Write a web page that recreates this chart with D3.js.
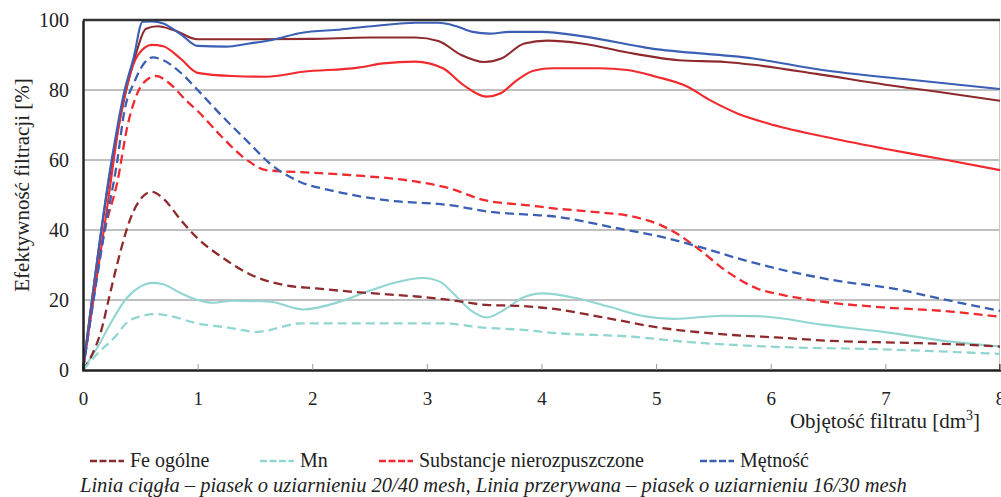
<!DOCTYPE html>
<html>
<head>
<meta charset="utf-8">
<script src="https://cdn.jsdelivr.net/npm/d3@7"></script>
<style>
  body { margin: 0; background: #fff; }
  svg text { font-family: "Liberation Serif", "Times New Roman", Times, Tinos, "DejaVu Serif", serif !important; fill: #222; }
</style>
</head>
<body>
<svg id="chart" width="1001" height="497"></svg>
<script>
// ---- data ----
var xTicks = [0, 1, 2, 3, 4, 5, 6, 7, 8];
var yTicks = [0, 20, 40, 60, 80, 100];
var legendNames = ["Fe ogólne", "Mn", "Substancje nierozpuszczone", "Mętność"];

// solid lines (piasek 20/40 mesh)
var feSolidX = [0, 0.25, 0.45, 0.55, 0.65, 0.8, 1.0, 1.5, 2.0, 2.5, 2.9, 3.1, 3.3, 3.5, 3.65, 3.85, 4.05, 4.35, 4.75, 5.2, 5.6, 5.85, 6.4, 7.0, 7.5, 8.0];
var feSolidY = [0, 59, 89, 97.5, 98.2, 97, 94.5, 94.5, 94.6, 95, 95, 94, 90, 88, 89, 93.3, 94.1, 93.3, 90.7, 88.5, 88, 87.2, 84.6, 81.5, 79.3, 76.9];

var mnSolidX = [0, 0.13, 0.24, 0.38, 0.5, 0.6, 0.7, 0.85, 1.0, 1.14, 1.3, 1.63, 1.92, 2.24, 2.48, 2.7, 2.97, 3.12, 3.23, 3.38, 3.52, 3.67, 3.84, 4.01, 4.31, 4.6, 4.89, 5.15, 5.58, 5.88, 6.46, 6.98, 7.57, 8.0];
var mnSolidY = [0, 6.7, 13.3, 20.5, 23.8, 24.9, 24.5, 22, 20, 19.2, 19.8, 19.5, 17.3, 19.5, 22.4, 24.8, 26.3, 25.1, 21.9, 17.1, 15, 17.1, 20.7, 21.9, 20.5, 18, 15.4, 14.6, 15.5, 15.4, 12.9, 10.9, 8.1, 6.7];

var subSolidX = [0, 0.2, 0.33, 0.48, 0.6, 0.7, 0.85, 1.0, 1.3, 1.6, 1.92, 2.4, 2.62, 2.9, 3.14, 3.32, 3.52, 3.64, 3.79, 3.93, 4.1, 4.5, 4.75, 5.0, 5.27, 5.47, 5.71, 5.97, 6.46, 6.98, 7.5, 8.0];
var subSolidY = [0, 44, 72.9, 90, 92.9, 92.5, 89, 84.9, 84, 83.8, 85.2, 86.4, 87.6, 88.1, 86.2, 81.4, 78.1, 79, 82.9, 85.5, 86.2, 86.2, 85.7, 83.8, 81, 77.1, 73.3, 70.5, 66.7, 63.3, 60.2, 57.1];

var metSolidX = [0, 0.25, 0.36, 0.44, 0.52, 0.6, 0.7, 0.85, 1.0, 1.25, 1.45, 1.65, 1.9, 2.25, 2.6, 2.9, 3.1, 3.25, 3.4, 3.55, 3.72, 4.0, 4.35, 4.95, 5.85, 6.45, 7.2, 8.0];
var metSolidY = [0, 60, 79.5, 89, 99.5, 99.6, 99, 96, 92.6, 92.4, 93.3, 94.3, 96.3, 97.3, 98.5, 99.2, 99.2, 98.3, 96.6, 96.1, 96.6, 96.6, 95.4, 91.9, 89, 85.7, 83, 80.3];

// dashed lines (piasek 16/30 mesh)
var feDashX = [0, 0.07, 0.16, 0.23, 0.3, 0.42, 0.52, 0.6, 0.7, 0.85, 1.0, 1.2, 1.46, 1.75, 2.04, 2.33, 2.62, 2.91, 3.2, 3.52, 3.81, 4.07, 4.51, 5.03, 5.67, 6.05, 6.54, 7.13, 7.57, 8.0];
var feDashY = [0, 3.8, 11.4, 21, 30.5, 43.8, 49.5, 50.9, 49, 43, 37.6, 32.5, 27.3, 24.3, 23.3, 22.4, 21.7, 21, 20, 18.6, 18.3, 17.6, 15.2, 12.1, 10, 9.3, 8.3, 7.8, 7.4, 6.7];

var mnDashX = [0, 0.13, 0.28, 0.39, 0.5, 0.62, 0.75, 1.0, 1.25, 1.52, 1.9, 2.5, 3.14, 3.49, 3.87, 4.07, 4.8, 5.24, 5.97, 6.98, 8.0];
var mnDashY = [0, 4.8, 9.5, 13.8, 15.3, 16, 15.5, 13.3, 12.2, 10.9, 13.3, 13.3, 13.3, 12.1, 11.4, 10.7, 9.5, 8.1, 6.7, 5.9, 4.6];

var subDashX = [0, 0.19, 0.3, 0.39, 0.48, 0.56, 0.64, 0.75, 0.9, 1.0, 1.2, 1.43, 1.6, 1.98, 2.33, 2.91, 3.2, 3.49, 3.93, 4.07, 4.45, 4.8, 5.04, 5.18, 5.38, 5.62, 5.88, 6.11, 6.46, 6.98, 7.57, 8.0];
var subDashY = [0, 40, 53.8, 70, 79.5, 83, 84, 82, 77, 74, 67, 60, 57.1, 56.4, 55.7, 53.8, 51.9, 48.6, 46.9, 46.3, 45.2, 43.8, 41.4, 39, 34.3, 28.1, 23.3, 21.4, 19.5, 17.9, 16.7, 15.2];

var metDashX = [0, 0.19, 0.3, 0.36, 0.45, 0.53, 0.61, 0.7, 0.85, 1.0, 1.2, 1.46, 1.63, 1.89, 2.18, 2.62, 3.2, 3.55, 3.93, 4.07, 4.66, 5.04, 5.32, 5.82, 6.17, 6.54, 7.13, 7.42, 8.0];
var metDashY = [0, 40, 60, 73.8, 82.4, 87.5, 89.3, 88.5, 85, 80, 73, 64.5, 59, 53.8, 51.2, 48.6, 47.1, 45.2, 44.3, 44, 40.5, 38.1, 35.7, 30.9, 28.1, 25.7, 22.9, 20.8, 16.9];

var colors = ["#8e2a2e", "#92d6d2", "#f02a2e", "#3a5fb3"];

// ---- chart ----
var svg = d3.select("#chart"),
    margin = { top: 20, right: 1, bottom: 127, left: 83 },
    iwidth = +svg.attr("width") - margin.left - margin.right,
    iheight = +svg.attr("height") - margin.top - margin.bottom,
    g = svg.append("g").attr("transform", "translate(" + margin.left + "," + margin.top + ")");

var x = d3.scaleLinear().domain([0, 8]).range([0, iwidth]);
var y = d3.scaleLinear().domain([0, 100]).range([iheight, 0]);

// gridlines
g.append("g")
  .selectAll("line")
  .data(yTicks.filter(d => d > 0 && d < 100))
  .enter().append("line")
    .attr("x1", 0).attr("x2", iwidth)
    .attr("y1", d => y(d)).attr("y2", d => y(d))
    .attr("stroke", "#808080").attr("stroke-width", 1);

// right border
g.append("line")
  .attr("x1", iwidth - 0.5).attr("x2", iwidth - 0.5)
  .attr("y1", 0).attr("y2", iheight)
  .attr("stroke", "#c8c8c8").attr("stroke-width", 1);

// series
var series = [
  { xs: feSolidX, ys: feSolidY, c: 0, dash: null },
  { xs: mnSolidX, ys: mnSolidY, c: 1, dash: null },
  { xs: subSolidX, ys: subSolidY, c: 2, dash: null },
  { xs: metSolidX, ys: metSolidY, c: 3, dash: null },
  { xs: feDashX, ys: feDashY, c: 0, dash: "9,5" },
  { xs: mnDashX, ys: mnDashY, c: 1, dash: "9,5" },
  { xs: subDashX, ys: subDashY, c: 2, dash: "9,5" },
  { xs: metDashX, ys: metDashY, c: 3, dash: "9,5" }
];

var line = d3.line()
  .x(d => x(d[0]))
  .y(d => y(d[1]))
  .curve(d3.curveMonotoneX);

series.forEach(function (s) {
  g.append("path")
    .datum(s.xs.map((v, i) => [v, s.ys[i]]))
    .attr("fill", "none")
    .attr("stroke", colors[s.c])
    .attr("stroke-width", s.dash ? 2.3 : 2.1)
    .attr("stroke-dasharray", s.dash)
    .attr("d", line);
});

// top border
g.append("line")
  .attr("x1", 0).attr("x2", iwidth)
  .attr("y1", 0).attr("y2", 0)
  .attr("stroke", "#333").attr("stroke-width", 2.5);

// x axis
var xAxis = g.append("g")
  .attr("transform", "translate(0," + iheight + ")")
  .call(d3.axisBottom(x).tickValues(xTicks).tickSize(-6).tickPadding(22).tickFormat(d3.format("d")));
xAxis.select(".domain").attr("stroke", "#222").attr("stroke-width", 2.5);
xAxis.selectAll(".tick line").attr("stroke", "#999");
xAxis.selectAll(".tick text").attr("font-size", 19).attr("fill", "#222");

// y axis
var yAxis = g.append("g")
  .call(d3.axisLeft(y).tickValues(yTicks).tickSize(0).tickPadding(14));
yAxis.select(".domain").attr("stroke", "#222").attr("stroke-width", 2.5);
yAxis.selectAll(".tick text").attr("font-size", 20).attr("fill", "#222");

// axis titles
svg.append("text")
  .attr("transform", "translate(29," + (margin.top + 165) + ") rotate(-90)")
  .attr("text-anchor", "middle")
  .attr("font-size", 21)
  .text("Efektywność filtracji [%]");

var xt = svg.append("text")
  .attr("x", 980).attr("y", 428)
  .attr("text-anchor", "end")
  .attr("font-size", 21);
xt.append("tspan").text("Objętość filtratu [dm");
xt.append("tspan").attr("dy", -8).attr("font-size", 14).text("3");
xt.append("tspan").attr("dy", 8).text("]");

// legend
var legendX = [90, 260, 379, 700];
var legend = svg.append("g")
  .selectAll("g")
  .data(legendNames).enter().append("g")
  .attr("transform", (d, i) => "translate(" + legendX[i] + ",461)");

legend.append("line")
  .attr("x1", 0).attr("x2", 34)
  .attr("y1", 0).attr("y2", 0)
  .attr("stroke", (d, i) => colors[i])
  .attr("stroke-width", 2.5)
  .attr("stroke-dasharray", "7,2.5");

legend.append("text")
  .attr("x", 40).attr("y", 6)
  .attr("font-size", 20)
  .text(d => d);

// caption
svg.append("text")
  .attr("x", 80).attr("y", 492)
  .attr("font-size", 20.5)
  .attr("font-style", "italic")
  .text("Linia ciągła – piasek o uziarnieniu 20/40 mesh, Linia przerywana – piasek o uziarnieniu 16/30 mesh");
</script>
</body>
</html>
